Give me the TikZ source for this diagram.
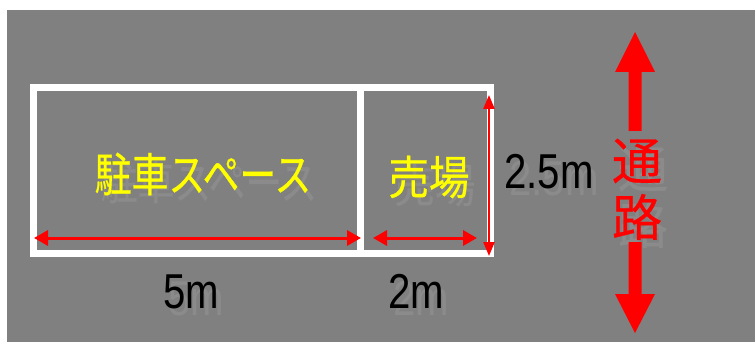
\documentclass[tikz,border=0pt]{standalone}
\usepackage{fontspec}
\setmainfont{Liberation Sans}
\newfontfamily\jp[FakeBold=0.6]{Noto Sans CJK JP}
\usetikzlibrary{arrows.meta}
\definecolor{bggray}{RGB}{128,128,128}
\definecolor{shadowgray}{RGB}{139,139,139}
\definecolor{ylw}{RGB}{255,255,0}
\begin{document}
\begin{tikzpicture}[x=1pt,y=-1pt,
  dimarrow/.style={red, line width=3pt, {Triangle[length=14pt,width=15pt]}-{Triangle[length=14pt,width=15pt]}},
  jplbl/.style={inner sep=0pt, font=\jp\fontsize{46}{46}\selectfont},
  numlbl/.style={inner sep=0pt, font=\fontsize{49}{49}\selectfont},
  roadlbl/.style={inner sep=0pt, font=\jp\fontsize{50}{50}\selectfont}]
\useasboundingbox (0,0) rectangle (755,342);
\fill[white] (0,0) rectangle (755,342);
\fill[bggray] (7,10) rectangle (755,342);
% white outline
\draw[white, line width=7pt] (33,88) rectangle (490,253);
\draw[white, line width=7pt] (360.5,88) -- (360.5,253);
% text shadows
\node[jplbl, text=shadowgray, xscale=0.8] (parks) at (209,182) {駐車スペース};
\node[jplbl, text=shadowgray, xscale=0.88] (shops) at (435,185) {売場};
\node[numlbl, text=shadowgray, xscale=0.82, anchor=base west] (hs) at (509,195) {2.5m};
\node[numlbl, text=shadowgray, xscale=0.82, anchor=base] (w5s) at (196,315) {5m};
\node[numlbl, text=shadowgray, xscale=0.82, anchor=base] (w2s) at (421,315) {2m};
\node[roadlbl, text=shadowgray] (t1s) at (643,169) {通};
\node[roadlbl, text=shadowgray] (t2s) at (643,225) {路};
% labels
\node[jplbl, text=ylw, xscale=0.8] (park) at (203,174) {駐車スペース};
\node[jplbl, text=ylw, xscale=0.88] (shop) at (429,177) {売場};
\node[numlbl, xscale=0.82, anchor=base west] (h) at (504,188) {2.5m};
\node[numlbl, xscale=0.82, anchor=base] (w5) at (191,308) {5m};
\node[numlbl, xscale=0.82, anchor=base] (w2) at (416,308) {2m};
\node[roadlbl, text=red] (t1) at (637,161) {通};
\node[roadlbl, text=red] (t2) at (637,217) {路};
% dimension arrows
\coordinate (a5l) at (34,238);
\coordinate (a5r) at (361,238);
\coordinate (a2l) at (373,238);
\coordinate (a2r) at (477,238);
\coordinate (avt) at (489,95);
\coordinate (avb) at (489,256);
\draw[dimarrow] (a5l) -- (a5r);
\draw[dimarrow] (a2l) -- (a2r);
\draw[red, line width=2.2pt, {Triangle[length=14pt,width=11pt]}-{Triangle[length=14pt,width=11pt]}] (avt) -- (avb);
% road arrows
\fill[red] (635,32) -- (655,72) -- (641.5,72) -- (641.5,131) -- (628.5,131) -- (628.5,72) -- (615,72) -- cycle;
\fill[red] (635,333) -- (655,294) -- (641.5,294) -- (641.5,242) -- (628.5,242) -- (628.5,294) -- (615,294) -- cycle;
\end{tikzpicture}
\end{document}
